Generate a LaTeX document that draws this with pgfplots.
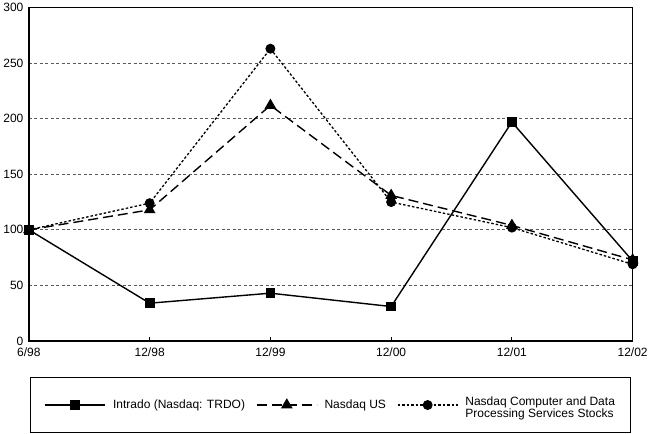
\documentclass[border=0pt]{standalone}
\usepackage{fontspec}
\setmainfont{Liberation Sans}
\usepackage{pgfplots}
\pgfplotsset{compat=1.18}
\begin{document}
\begin{tikzpicture}
\begin{axis}[
  scale only axis, width=603pt, height=333pt,
  xmin=0, xmax=5, ymin=0, ymax=300,
  xtick={0,1,2,3,4,5}, xticklabels={6/98,12/98,12/99,12/00,12/01,12/02},
  ytick={0,50,...,300},
  ymajorgrids,
  grid style={dash pattern=on 3pt off 2.5pt, black!65, line width=0.9pt},
  xtick pos=bottom, ytick pos=left,
  xtick style={black, line width=1pt}, major tick length=4pt,
  ytick style={draw=none},
  axis line style={line width=1.4pt},
  tick label style={font=\fontsize{12}{14}\selectfont},
  xticklabel style={yshift=-3pt},
  yticklabel style={xshift=-2pt},
  /pgf/number format/assume math mode=true,
  clip=false,
  legend style={at={(0.5,-0.108)}, anchor=north, draw=black, line width=1pt,
    inner xsep=14pt, inner ysep=17pt, font=\fontsize{12}{12.5}\selectfont,
    /tikz/every odd column/.append style={column sep=5pt},
    /tikz/every even column/.append style={column sep=9pt}},
  legend columns=3, legend cell align=left,
  legend image code/.code={\draw[mark repeat=2,mark phase=2] plot coordinates {(0pt,0pt)(30pt,0pt)(60pt,0pt)};},
]
\addplot[black, line width=1.4pt, mark=square*, mark size=4.2pt, mark options={solid}]
  coordinates {(0,100) (1,34) (2,43) (3,31) (4,197) (5,72)};
\addlegendentry{Intrado (Nasdaq: TRDO)}
\addplot[black, line width=1.4pt, dash pattern=on 10pt off 5pt, mark=triangle*, mark size=5.4pt, mark options={solid}]
  coordinates {(0,100) (1,118) (2,212) (3,131) (4,104) (5,73)};
\addlegendentry{Nasdaq US}
\addplot[black, line width=1.3pt, dash pattern=on 2.5pt off 2pt, mark=*, mark size=4.3pt, mark options={solid}]
  coordinates {(0,100) (1,124) (2,263) (3,125) (4,102) (5,69)};
\addlegendentry{\begin{tabular}{@{}l@{}}Nasdaq Computer and Data\\Processing Services Stocks\end{tabular}}
\end{axis}
\end{tikzpicture}
\end{document}
